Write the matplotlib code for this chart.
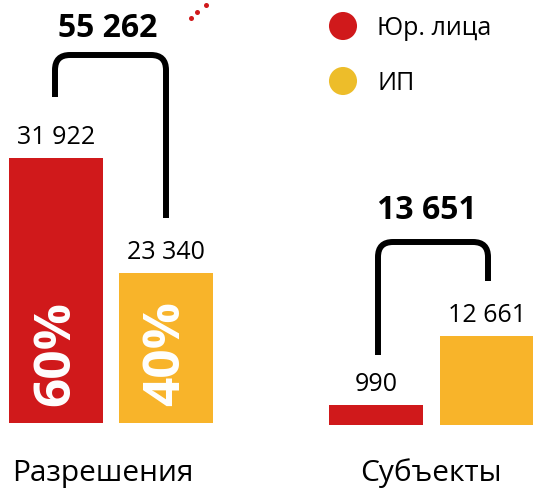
import matplotlib
matplotlib.use("Agg")
import matplotlib.pyplot as plt
from matplotlib.path import Path
import matplotlib.patches as mpatches

plt.rcParams["font.family"] = ["Open Sans", "DejaVu Sans"]

# ── data ─────────────────────────────────────────────────────────
groups = ["Разрешения", "Субъекты"]
series = ["Юр. лица", "ИП"]
permits = [31922, 23340]      # Разрешения: юр. лица, ИП
subjects = [990, 12661]       # Субъекты: юр. лица, ИП
permit_pct = ["60%", "40%"]

RED = "#d0191b"
YELLOW = "#f8b42a"
YELLOW_LEG = "#edbd2a"

W, H = 533, 488
fig = plt.figure(figsize=(W / 100, H / 100), dpi=100)


def px_box(x0, y0, x1, y1):
    # pixel box (top-left origin) -> figure fraction
    return [x0 / W, (H - y1) / H, (x1 - x0) / W, (y1 - y0) / H]


def fmt(v):
    return f"{v:,}".replace(",", " ")


# overlay for brackets, legend, captions (pixel coords)
ax_o = fig.add_axes([0, 0, 1, 1])
ax_o.set_xlim(0, W)
ax_o.set_ylim(H, 0)
ax_o.axis("off")

# ── bars: permits ───────────────────────────────────────────────
ax1 = fig.add_axes(px_box(0, 158, 220, 423))
ax1.bar(range(len(permits)), permits, width=94 / 110, color=[RED, YELLOW])
ax1.set_xlim(-56 / 110, 164 / 110)
ax1.set_ylim(12150, 31922)
ax1.axis("off")

# ── bars: subjects ──────────────────────────────────────────────
ax2 = fig.add_axes(px_box(310, 336, 533, 425))
ax2.set_yscale("log")
ax2.bar(range(len(subjects)), subjects, width=94 / 111, color=[RED, YELLOW])
ax2.set_xlim(-66 / 111, 157 / 111)
ax2.set_ylim(473, 12661)
ax2.axis("off")

for ax, vals in ((ax1, permits), (ax2, subjects)):
    for i, v in enumerate(vals):
        ax.annotate(fmt(v), (i, v), xytext=(0, 10), textcoords="offset points",
                    ha="center", va="baseline", fontsize=18, annotation_clip=False)

for i, p in enumerate(permit_pct):
    ax1.text(i, 0.264, p, transform=ax1.get_xaxis_transform(), rotation=90,
             ha="center", va="center", color="white", fontweight="bold", fontsize=37)


# ── brackets with totals ────────────────────────────────────────
def bracket(x1, x2, yt, yb1, yb2, r=15):
    verts = [(x1, yb1), (x1, yt + r), (x1, yt), (x1 + r, yt), (x2 - r, yt),
             (x2, yt), (x2, yt + r), (x2, yb2)]
    codes = [Path.MOVETO, Path.LINETO, Path.CURVE3, Path.CURVE3, Path.LINETO,
             Path.CURVE3, Path.CURVE3, Path.LINETO]
    ax_o.add_patch(mpatches.PathPatch(Path(verts, codes), fill=False, lw=4.3,
                                      edgecolor="black", capstyle="butt", joinstyle="round"))


bracket(55, 166, 55, 97, 218)
bracket(378, 488, 242, 355, 281)
ax_o.text(108, 37, fmt(sum(permits)), ha="center", va="baseline", fontsize=23, fontweight="bold")
ax_o.text(427, 219, fmt(sum(subjects)), ha="center", va="baseline", fontsize=23, fontweight="bold")

# group captions
ax_o.text(103, 481, groups[0], ha="center", va="baseline", fontsize=21.5)
ax_o.text(431, 481, groups[1], ha="center", va="baseline", fontsize=21.5)

# legend
ax_o.scatter([343, 343], [26, 81], s=408, c=[RED, YELLOW_LEG], linewidths=0)
ax_o.text(377, 35, series[0], ha="left", va="baseline", fontsize=18)
ax_o.text(377, 90, series[1], ha="left", va="baseline", fontsize=18)

# decorative dots at top
ax_o.scatter([191, 197, 206], [18, 12, 5], s=13, c=RED, linewidths=0)

fig.savefig("out.png", dpi=100)
